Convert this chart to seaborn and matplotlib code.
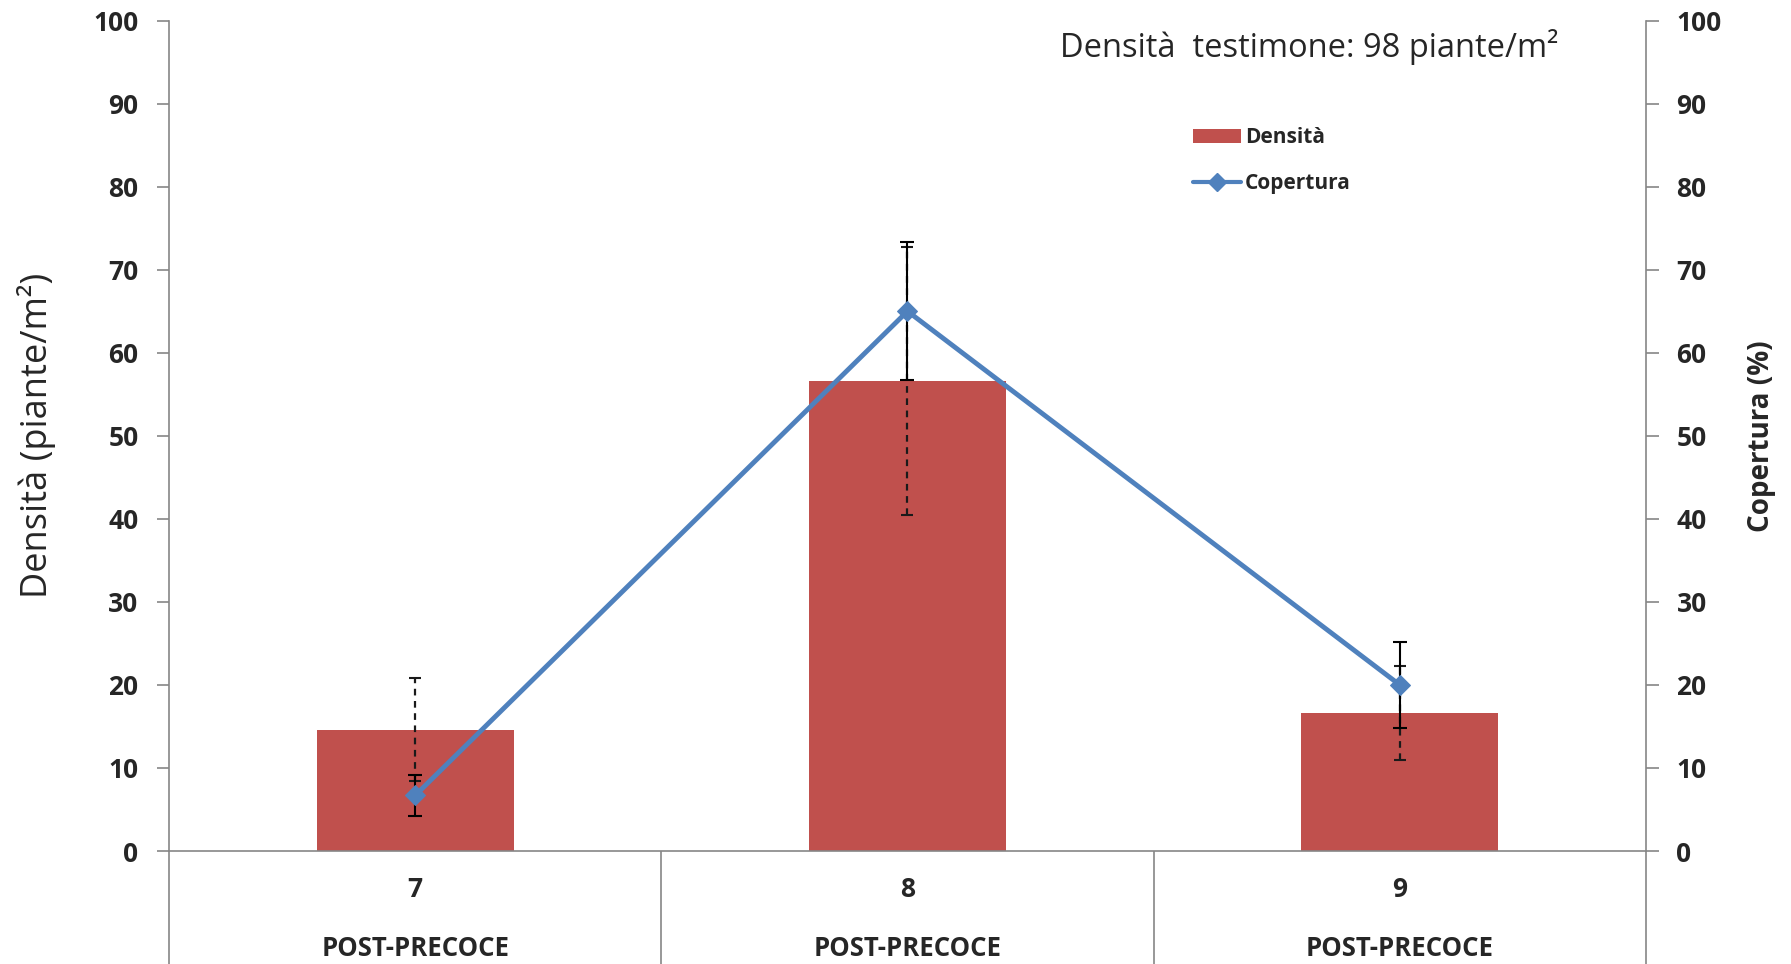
import matplotlib
matplotlib.use('Agg')

import numpy as np
import pandas as pd
import matplotlib.pyplot as plt
from matplotlib.patches import Patch
from matplotlib.lines import Line2D
import seaborn as sns

# data
trattamenti = ['7', '8', '9']
epoca = ['POST-PRECOCE', 'POST-PRECOCE', 'POST-PRECOCE']
densita = [14.6, 56.6, 16.6]          # piante/m2
densita_err = [6.2, 16.1, 5.7]
copertura = [6.7, 65.0, 20.0]         # %
copertura_err = [2.5, 8.3, 5.2]
nota = 'Densità  testimone: 98 piante/m²'

RED = '#C0504D'
BLUE = '#4F81BD'
GREY = '#868686'

sns.set_style('ticks')
plt.rcParams['font.family'] = ['Open Sans', 'DejaVu Sans']

df = pd.DataFrame({'trattamento': trattamenti, 'densita': densita, 'copertura': copertura})
xpos = np.arange(len(trattamenti))

fig = plt.figure(figsize=(17.91, 9.64), dpi=100)
ax = fig.add_axes([0.0944, 0.1172, 0.8246, 0.8615])

sns.barplot(data=df, x='trattamento', y='densita', color=RED, saturation=1,
            width=0.4, ax=ax, errorbar=None, edgecolor='none')
eb = ax.errorbar(xpos, densita, yerr=densita_err, fmt='none', ecolor='#1a1a1a',
                 elinewidth=1.6, capsize=4, capthick=1.5, zorder=3)
eb[2][0].set_linestyle((0, (3, 2.5)))

ax.set_xlim(-0.5, 2.5)
ax.set_ylim(0, 100)
ax.set_yticks(range(0, 101, 10))
ax.set_xticks(xpos)
ax.set_xticklabels(trattamenti, fontsize=19, fontweight='bold')
ax.tick_params(axis='x', length=0, pad=18)
ax.tick_params(axis='y', direction='out', length=9, width=1.2, color=GREY,
               labelsize=19, pad=13)
for t in ax.get_yticklabels():
    t.set_fontweight('bold')
ax.set_xlabel('')
ax.set_ylabel('Densità (piante/m²)', fontsize=26, labelpad=27)

for i, lab in enumerate(epoca):
    ax.text(xpos[i], -0.117, lab, transform=ax.get_xaxis_transform(),
            ha='center', va='center', fontsize=18.5, fontweight='bold')

# category separators below the axis
ax.vlines([-0.5, 0.5, 1.5, 2.5], -0.14, 0, transform=ax.get_xaxis_transform(),
          colors=GREY, lw=1.2, clip_on=False)

for s in ['top', 'right']:
    ax.spines[s].set_visible(False)
for s in ['left', 'bottom']:
    ax.spines[s].set_color(GREY)
    ax.spines[s].set_linewidth(1.2)

# secondary axis: copertura
ax2 = ax.twinx()
ax2.errorbar(xpos, copertura, yerr=copertura_err, fmt='none', ecolor='black',
             elinewidth=1.5, capsize=5, capthick=1.5, zorder=2)
sns.lineplot(x=xpos, y=copertura, ax=ax2, color=BLUE, marker='D', markersize=10,
             markeredgecolor=BLUE, linewidth=3.5, zorder=3)
ax2.set_ylim(0, 100)
ax2.set_yticks(range(0, 101, 10))
ax2.tick_params(axis='y', direction='out', length=9, width=1.2, color=GREY,
                labelsize=19, pad=13)
for t in ax2.get_yticklabels():
    t.set_fontweight('bold')
ax2.set_ylabel('Copertura (%)', fontsize=20, fontweight='bold', labelpad=18)
for s in ['top', 'left', 'bottom']:
    ax2.spines[s].set_visible(False)
ax2.spines['right'].set_color(GREY)
ax2.spines['right'].set_linewidth(1.2)
ax2.set_xlim(-0.5, 2.5)

handles = [Patch(facecolor=RED, edgecolor='none'),
           Line2D([], [], color=BLUE, marker='D', markersize=9, linewidth=3)]
fig.legend(handles, ['Densità', 'Copertura'], loc='upper left',
           bbox_to_anchor=(0.666, 0.868), frameon=False,
           prop={'weight': 'bold', 'size': 15}, handlelength=2.3,
           handletextpad=0.2, labelspacing=1.2, borderpad=0, borderaxespad=0)

fig.text(0.592, 0.941, nota, fontsize=23.5, ha='left', va='baseline')

fig.savefig('out.png', dpi=100)
